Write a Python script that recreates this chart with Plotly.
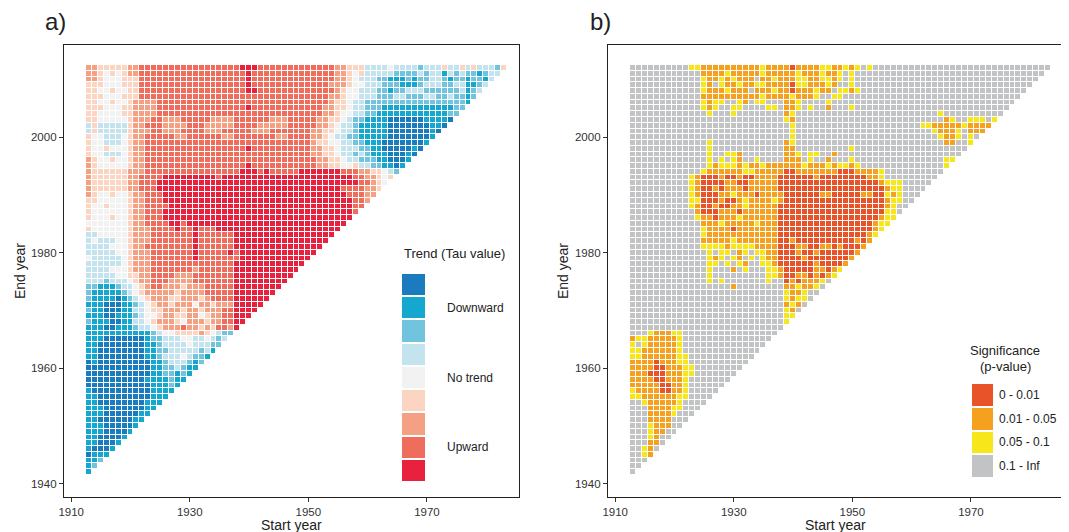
import plotly.graph_objects as go

W, H = 1069, 532
OFF = 8  # default page margin of the html body

# ---------------- data ----------------
START_YEARS = list(range(1913, 1984))          # 71 start years (columns)
END_YEARS = list(range(2012, 1941, -1))        # 71 end years, top row first

TREND_COLORS = ["#1a7bbf", "#14a8d1", "#72c4de", "#c3e4ee", "#f2f2f2",
                "#fcd4c2", "#f4a183", "#ef6d5c", "#e8213f"]
TREND_LABELS = ["", "Downward", "", "", "No trend", "", "", "Upward", ""]

SIG_CODES = ["R", "O", "Y", "G"]
SIG_COLORS = ["#e9532a", "#f5a01f", "#f7e71a", "#c2c3c5"]
SIG_LABELS = ["0 - 0.01", "0.01 - 0.05", "0.05 - 0.1", "0.1 - Inf"]

X_TICKS = [1910, 1930, 1950, 1970]
Y_TICKS = [1940, 1960, 1980, 2000]

# trend class per cell, one run-length string per end year (2012 first)
TREND_ROWS = [
    "7*2 6*5 7*2 8*17 9*3 8*7 8*6 7*2 6*3 4*4 5 4*4 3 4*3 6 4*2 6 4 6 4*3 3 6",
    "7*2 6 5 6 5 6 7*2 8*18 9 8*8 8*6 7*2 6 5 6 4*5 3*4 4 3 4*2 2 4 3 4 3*2 2 3 4*2",
    "7*2 6 5*3 6 6*2 8*18 9 8*8 8*6 7*2 6 5 4*3 3*2 2*3 3 2 3*2 4*2 3 2 3*2 2 3*2 2 4",
    "6*2 6 5*3 6 6*2 8*18 9 8*8 8*5 7*3 6 5*2 4*3 3*3 2*3 3 4*3 3*2 4*2 2*2 3 4",
    "6*2 5*2 6 5*2 6*2 8*18 9*2 8*7 8*6 7 6 5*2 4*3 3*2 2 3*2 4*3 3*6 4 2 3 4",
    "6*2 6 5*3 6 6*2 8*27 8*5 7*2 6 5*2 4*3 3*3 4*2 3*3 4*2 3*2 4 3*2 2 3",
    "6*2 5*2 6 5*2 6 7*4 8*24 8*5 7 6*2 5 4*2 3*17 2",
    "6*2 6 5*3 6 6 7*4 8*15 9 8*8 8*4 7*2 6*2 5 4*2 3*3 2*12 3*2",
    "6*2 5*4 6 6 7*4 8*24 8*4 7*2 6 5*2 4*2 3*2 2*12 3*2",
    "6*2 5*5 6 7*3 8*2 7*3 8*5 7*4 8*6 7*3 8*2 8*3 7*2 6*2 5 4 3*2 2*4 1*6 2*4 1",
    "4 6 4*5 6 7*2 8*3 7*4 8*3 7*5 8*4 7*5 8*2 8*3 7*2 6 5 4*2 3 2*5 1*7 2*2 1",
    "4 6 4*5 6 7*3 8*2 7*3 8*4 7*3 8*5 7*3 8*5 8*2 7*2 6*2 5 4*2 3 2*5 1*7 2 1",
    "6 5 5 4*3 5 6 7*2 8*5 7*2 8*6 7*2 8*7 7*2 8*2 8*2 7*2 6 5 4*2 3*2 2*5 1*7 2",
    "6 5*2 4*3 5 6 7*2 8*26 8*2 7 6*2 5*2 4*2 3*2 2*3 1*7 2",
    "6 5*2 6 5*3 6 7*2 8*17 9 8*8 8*2 7*2 6*2 5 4*3 3*2 2*2 1*5 2 1",
    "6 5*2 4*3 5 6 7*2 8*26 8*2 7*2 6*2 5 4*2 3 4 3 2*3 1*3 2 1",
    "7 6 5*2 6 5*2 6 7*2 8*26 8*3 7*2 6*2 5 4*2 3*3 2*2 1*3 2",
    "7 6 5*5 6 7*2 8*17 9 8*8 8*3 7*2 6*2 5*2 6 4*2 3*2 2*2 1 2",
    "7 6 6*5 7*3 8*16 9*3 8 9 8*5 9*7 8*3 7*2 6*2 5 4 3",
    "7 6*6 7*2 8*4 9*9 8 9*13 9*9 8*2 7*2 6 5 6",
    "7 6*6 7*2 8*3 9*24 9*10 8*2 7 6 5",
    "7 6*6 7*2 8*3 9*24 9*7 8*4 7*2 6",
    "7 6 5*2 6 5*2 6 7*2 8*3 9*31 8*3 7*2",
    "6 6 5*5 6 7*2 8*3 9*32 8*2 7",
    "6 5*2 6 5*3 6 7*2 8*4 9*31 8*2",
    "6 5*6 6 7*2 8*3 9*32 8",
    "6 5*3 6 5*2 6 7*2 8*3 9*32",
    "5 5*6 6 7*2 8*4 9*2 8 9*27",
    "6 5*6 6 7*3 8*4 9 8*2 9 8*3 9*21",
    "4*2 5*5 6 7*3 8*7 9 8*6 9*17",
    "4 5 4*3 5*2 6 7*3 8*7 9 8*6 9*16",
    "4*4 5*3 6 7*2 8*8 9 8*6 9*15",
    "4*5 5*2 6 7*3 8*7 9 8*5 9 8 9*13",
    "5 4*5 5 6 7*3 8*7 9 8*7 9*12",
    "4*6 5 6 7*3 8*14 9*12",
    "4*4 5*3 6 7*3 8*7 7 8*6 9 9*10",
    "4*5 5*2 6*2 7*2 8*4 7*3 8*7 9*10",
    "4*3 3 4*3 5 6 7*2 8*3 7*4 8*7 9*9",
    "3*2 2*3 3 4*2 5 6 7 8*2 7*3 6 7*3 8*5 9*8",
    "3 2*5 3 4 5 6 7*2 7*3 6 7*4 8*5 9*7",
    "3 2*4 1 2 3 4 5 6 7*3 6*2 7*3 6 7 8*4 9*6",
    "2 2*2 1*3 2*2 3 4 5 6 7*2 6 7*3 5 7*2 6 7*3 9*5",
    "3 2*2 1*3 2*2 4 4 5 6*2 7*3 6 7*2 6 7*3 8*2 9*4",
    "2 2*2 1*2 2*3 3 4 5*2 6 7*2 6*2 7*2 5 6 7*2 8*2 9*3",
    "3 2*3 1*2 2*2 4 4 5 6 7*3 6 5 7*3 6 7*2 8 8 9*2",
    "2*3 1*2 2*3 3 4*2 5 6 7*3 8 7*2 6 7 6 8*2 7 9",
    "2*11 3 4 5*2 6*4 7 6 5 4 3*2",
    "2*3 1*7 2 3*2 4*3 5*2 4*2 5 4 3 4",
    "2*2 1*8 2*2 3 4*4 5 4*2 4 3*2",
    "2*2 1*8 2*2 3*2 4*4 4 3 4 2",
    "2*2 1*8 2*2 3 4*3 5 4 3*2 2",
    "1 2 1*9 2*2 3 4*3 3 2 3",
    "1*11 2*2 3*2 4 3 2*2",
    "1*11 2*2 3*2 2 3 2",
    "1*10 2*3 2 3 2*2",
    "1*11 2*3 3 2",
    "2 1*10 2*4",
    "2*2 1*9 2*3",
    "2*2 1*8 2*3",
    "2*3 1*7 2*2",
    "2*3 1*6 2*2",
    "2*2 1*6 2*2",
    "2*3 1*5 2",
    "2*3 1*4 2",
    "2*2 1*4 2",
    "2*2 1*3 2",
    "2 1*3 2",
    "1 2*3",
    "2 2 3",
    "2 3",
    "2",
]

# significance class per cell (R: 0-0.01, O: 0.01-0.05, Y: 0.05-0.1, G: 0.1-Inf)
SIG_ROWS = [
    "G*10 Y*2 O*10 Y O*4 R O*4 Y*2 O*2 Y O Y G Y G*30",
    "G*12 O*4 Y O*5 Y O*5 Y O*3 Y O*2 Y G Y G*32",
    "G*12 Y O*2 Y O Y O*3 G O*2 Y O*3 Y*2 O*2 Y*2 O Y G Y G*31",
    "G*12 Y O G Y O*2 Y O*2 Y*2 O*4 R Y*2 O*3 Y O G*2 Y G*30",
    "G*12 Y O*3 Y O*3 G O*3 Y O*2 R O*3 Y O*2 G Y*2 O Y G*28",
    "G*12 O*10 Y O*3 O Y O*3 Y G*2 Y Y G*30",
    "G*12 Y O Y*2 G*2 Y O G Y*2 G*3 O O Y G*4 Y G*31",
    "G*12 Y O Y G*2 Y*2 G*4 Y*2 G O*2 Y G Y G*2 O G*3 Y G*26",
    "G*13 Y G*3 Y G*8 O Y G*24 Y G*10",
    "G*26 Y O G*25 O Y G*2 Y*3 G Y",
    "G*27 Y G*21 Y*2 O*5 Y O*4",
    "G*27 Y G*23 Y O*3 Y G O*3",
    "G*27 Y G*24 Y O*2 Y G Y G",
    "G*13 Y G*12 O Y G*25 O*2 G*2 Y",
    "G*13 Y G*12 O*2 G*9 Y G*19",
    "G*13 Y G*2 Y*2 O G*7 O*2 Y G Y*2 G*2 O G*21",
    "G*13 Y G Y G Y O G*2 Y G*4 O*3 G Y G*2 O G*3 Y G*15 Y*2",
    "G*13 Y O Y*3 O Y O*2 Y O*3 O*3 Y O*3 Y O Y*2 O Y G*14 Y",
    "G*12 Y O*6 Y*2 O*4 O R*2 O*7 R*3 O*4 Y G*10",
    "G*10 Y O R*3 O R*2 O R*2 O*3 O R*6 O R*8 O*2 Y G*9",
    "G*10 Y O R*4 O*2 R*2 O*5 R*17 O Y*3 G*5",
    "G*10 Y O R*2 O R O*3 R O*5 R*18 O Y*2 G*4",
    "G*10 Y O R*3 O O Y O*3 R O*4 R*6 O*2 R*5 O*2 R*2 Y O Y G*3",
    "G*10 Y Y R*3 O R*2 O Y O*4 Y O R*17 O Y*2 G*2",
    "G*10 Y O R*2 O R*2 O*2 Y O*5 R R*17 O Y G*2",
    "G*11 O R*3 O*3 R O*6 R*18 Y*2 G",
    "G*11 Y O*2 R O*3 Y O*6 R*17 O Y*2",
    "G*12 O*3 Y O*5 Y O*3 R*16 O Y*2",
    "G*12 Y O*4 R O*7 R*16 O Y",
    "G*12 Y O*12 R*15 O Y",
    "G*12 O O*4 Y O*7 R*2 O R*10 O R O",
    "G*12 Y Y*3 O Y*3 Y O*4 R*3 O*2 R*2 O*2 R O R*3 O",
    "G*13 Y G Y*2 G O Y G Y*2 O*2 R*3 O R*2 O R*6 O",
    "G*13 Y O Y G Y O G Y G Y O O R*4 O R*7 O",
    "G*13 Y*2 G Y G Y O G*2 Y Y O R*6 O R*4 O",
    "G*13 Y G*3 O G Y G*3 Y*2 O R*5 O*2 R O Y",
    "G*13 Y G*9 Y*2 O R*2 O*2 R O R O Y",
    "G*13 Y G Y G*7 Y G*2 R O R O*3 Y G",
    "G*17 O G*8 O*2 Y O*2 Y G",
    "G*26 Y O*2 Y G*2",
    "G*26 Y O Y Y G",
    "G*26 O Y O G",
    "G*26 Y O G",
    "G*26 Y Y",
    "G*26 Y",
    "G*26",
    "G*3 Y O*3 Y*2 G*16",
    "O Y Y O*5 Y G*15",
    "Y G Y O*4 O Y G*14",
    "Y*2 O*6 Y G*13",
    "Y Y O*5 O Y*2 G*11",
    "O*2 O*2 R O*3 Y*2 G*10",
    "O*4 R*2 O*3 Y*2 G*8",
    "O*3 R*3 O*3 Y*2 G*7",
    "O*4 R*2 O*3 Y G*7",
    "O*4 O R*2 O*2 Y G*6",
    "Y O*4 R*2 O*2 Y G*5",
    "Y Y O*6 Y*2 G*4",
    "G*2 Y O*5 Y G*4",
    "G*3 O*4 Y*2 G*3",
    "G*3 O*4 Y G*3",
    "G*3 O*4 G*3",
    "G*3 Y O*3 G*2",
    "G*3 Y O*2 G*2",
    "G*3 Y O G*2",
    "G*3 O*2 G",
    "G*2 Y O G",
    "G*2 Y O",
    "G*3",
    "G*2",
    "G",
]


# ---------------- helpers ----------------
def expand(row, mapping):
    out = []
    for tok in row.split():
        if "*" in tok:
            v, n = tok.split("*")
            n = int(n)
        else:
            v, n = tok, 1
        out.extend([mapping(v)] * n)
    return out


def build_grid(rows, mapping):
    ncol = len(START_YEARS)
    z = []
    for r, row in enumerate(rows):
        vals = expand(row, mapping)
        length = ncol - r
        assert len(vals) == length, (r, len(vals), length)
        z.append(vals + [None] * (ncol - length))
    return z


def discrete_scale(colors):
    n = len(colors)
    cs = []
    for i, c in enumerate(colors):
        cs.append([i / n, c])
        cs.append([(i + 1) / n, c])
    return cs


def px(x):
    return (x - OFF) / W


def py(y):
    return 1 - (y - OFF) / H


trend_z = build_grid(TREND_ROWS, lambda v: int(v))
sig_z = build_grid(SIG_ROWS, lambda v: SIG_CODES.index(v) + 1)

trend_cs = discrete_scale(TREND_COLORS)
sig_cs = discrete_scale(SIG_COLORS)

fig = go.Figure()

fig.add_trace(go.Heatmap(
    x=START_YEARS, y=END_YEARS, z=trend_z, colorscale=trend_cs,
    zmin=0.5, zmax=len(TREND_COLORS) + 0.5, showscale=False,
    xgap=1, ygap=1, hoverongaps=False, xaxis="x", yaxis="y"))

fig.add_trace(go.Heatmap(
    x=START_YEARS, y=END_YEARS, z=sig_z, colorscale=sig_cs,
    zmin=0.5, zmax=len(SIG_COLORS) + 0.5, showscale=False,
    xgap=1, ygap=1, hoverongaps=False, xaxis="x2", yaxis="y2"))

# legend keys drawn as small one-column heatmaps
fig.add_trace(go.Heatmap(
    x=[0], y=list(range(len(TREND_COLORS))),
    z=[[i + 1] for i in range(len(TREND_COLORS))], colorscale=trend_cs,
    zmin=0.5, zmax=len(TREND_COLORS) + 0.5, showscale=False,
    ygap=2, hoverinfo="skip", xaxis="x3", yaxis="y3"))

fig.add_trace(go.Heatmap(
    x=[0], y=list(range(len(SIG_COLORS))),
    z=[[i + 1] for i in range(len(SIG_COLORS))], colorscale=sig_cs,
    zmin=0.5, zmax=len(SIG_COLORS) + 0.5, showscale=False,
    ygap=2, hoverinfo="skip", xaxis="x4", yaxis="y4"))

FONT = "Liberation Sans, Arial, Helvetica, sans-serif"
XR = [1908.79, 1985.52]
YR = [1937.69, 2015.96]

common_x = dict(range=XR, tickvals=X_TICKS, ticks="outside", ticklen=4,
                tickwidth=1, tickcolor="#333", showline=True, mirror=True,
                linecolor="#222", linewidth=1.3, showgrid=False, zeroline=False,
                automargin=False,
                tickfont=dict(size=11.5, color="#333", family=FONT), fixedrange=True)
common_y = dict(range=YR, tickvals=Y_TICKS, ticks="outside", ticklen=4,
                tickwidth=1, tickcolor="#333", showline=True, mirror=True,
                linecolor="#222", linewidth=1.3, showgrid=False, zeroline=False,
                automargin=False,
                tickfont=dict(size=11.5, color="#333", family=FONT), fixedrange=True)

ydom = [py(497), py(45)]
hidden = dict(visible=False, showgrid=False, zeroline=False, fixedrange=True,
              automargin=False)

fig.update_layout(
    width=W, height=H,
    margin=dict(l=0, r=0, t=0, b=0, pad=0, autoexpand=False),
    paper_bgcolor="white", plot_bgcolor="white",
    font=dict(family=FONT, color="#222"),
    xaxis=dict(domain=[px(64), px(519)], anchor="y", **common_x),
    yaxis=dict(domain=ydom, anchor="x", **common_y),
    xaxis2=dict(domain=[px(608), px(1063)], anchor="y2", **common_x),
    yaxis2=dict(domain=ydom, anchor="x2", **common_y),
    xaxis3=dict(domain=[px(402), px(425)], anchor="y3", range=[-0.5, 0.5], **hidden),
    yaxis3=dict(domain=[py(482), py(273)], anchor="x3",
                range=[len(TREND_COLORS) - 0.5, -0.5], **hidden),
    xaxis4=dict(domain=[px(972), px(993)], anchor="y4", range=[-0.5, 0.5], **hidden),
    yaxis4=dict(domain=[py(478), py(383)], anchor="x4",
                range=[len(SIG_COLORS) - 0.5, -0.5], **hidden),
    showlegend=False,
)

ann = []


def text(x, y, s, size, xanchor="center", angle=0, color="#222"):
    ann.append(dict(x=px(x), y=py(y), xref="paper", yref="paper", text=s,
                    showarrow=False, xanchor=xanchor, yanchor="middle",
                    textangle=angle, font=dict(size=size, color=color, family=FONT)))


text(55, 22, "a)", 24)
text(600, 22, "b)", 24)
text(291.5, 525, "Start year", 14)
text(835.5, 525, "Start year", 14)
text(20, 271, "End year", 14, angle=-90)
text(563, 271, "End year", 14, angle=-90)

# legend a
text(454.5, 254, "Trend (Tau value)", 13)
box_a_top, box_a_h = 273, (482 - 273) / len(TREND_COLORS)
for i, lab in enumerate(TREND_LABELS):
    if lab:
        text(445, box_a_top + box_a_h * (i + 0.5), lab, 12, xanchor="left")

# legend b
text(1005, 350, "Significance", 13)
text(1005, 366, "(p-value)", 13)
box_b_top, box_b_h = 383, (478 - 383) / len(SIG_COLORS)
for i, lab in enumerate(SIG_LABELS):
    text(997, box_b_top + box_b_h * (i + 0.5), lab, 12, xanchor="left")

fig.update_layout(annotations=ann)

fig.write_html("out.html")
